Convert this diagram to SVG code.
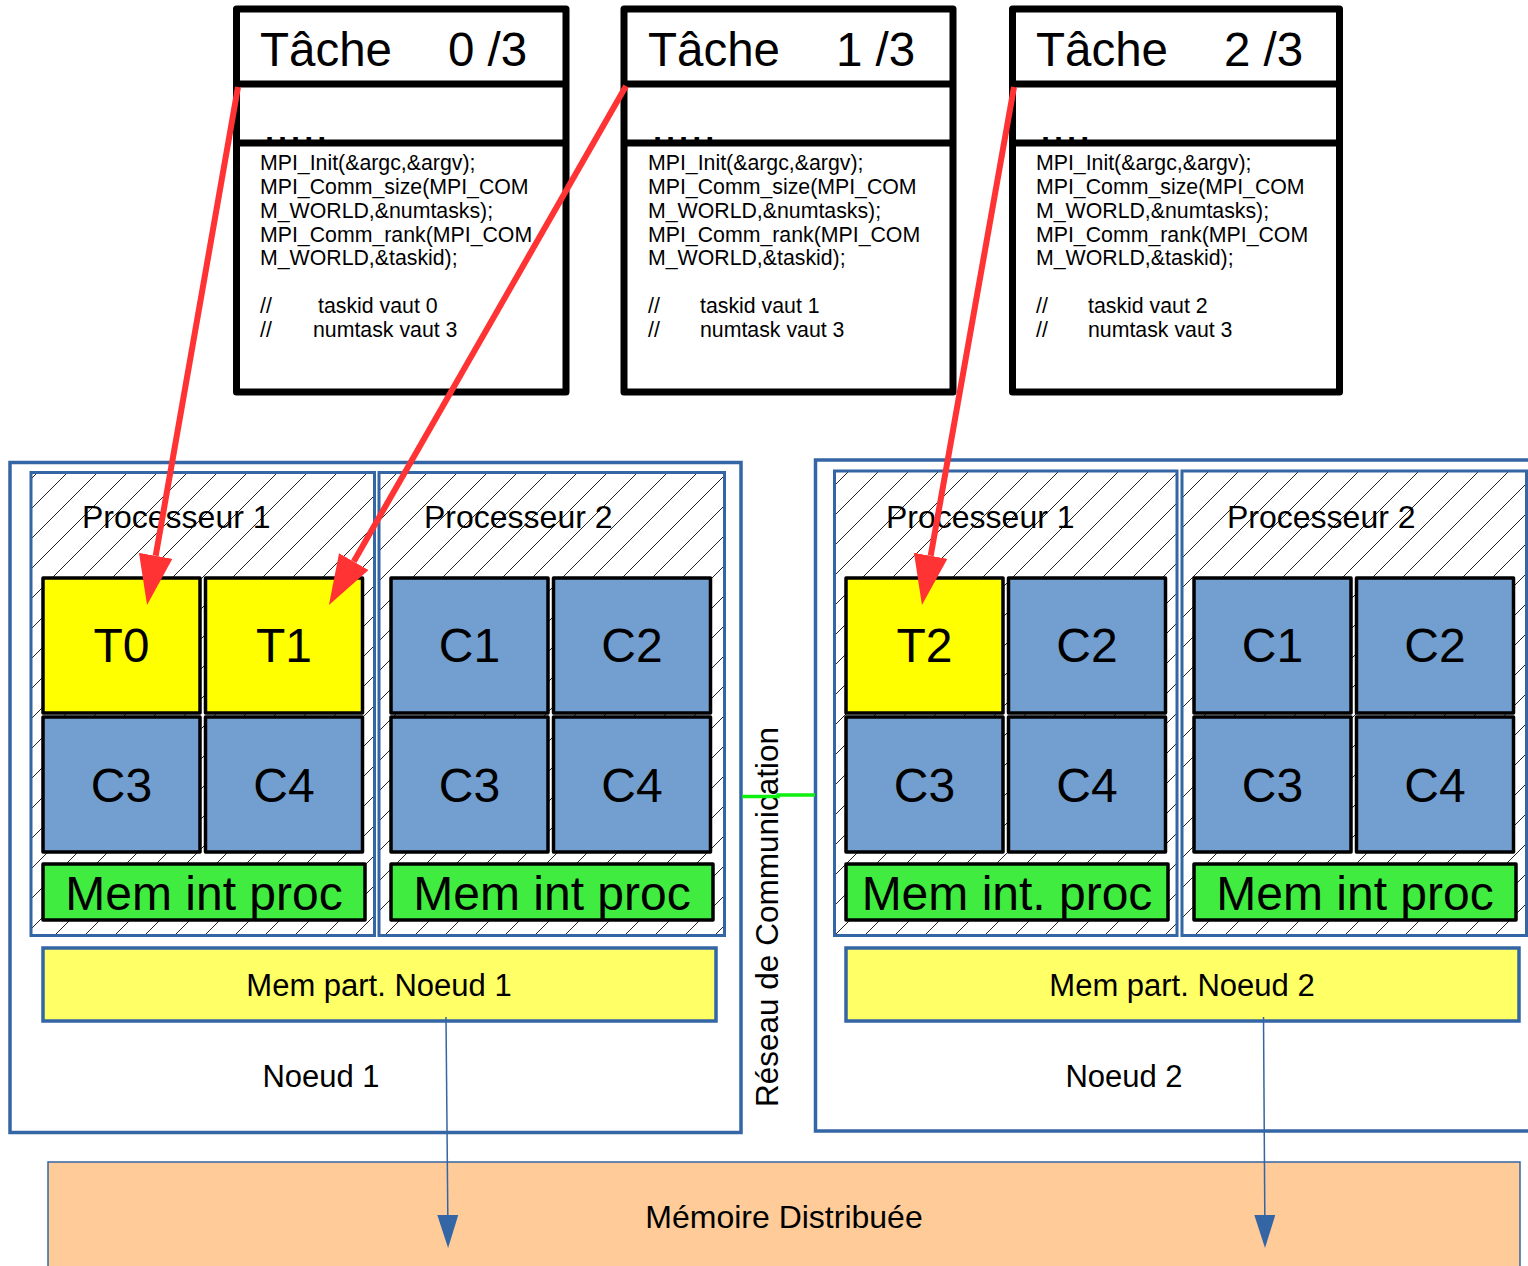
<svg xmlns="http://www.w3.org/2000/svg" width="1528" height="1266" viewBox="0 0 1528 1266">
  <defs>
    <pattern id="hatch" patternUnits="userSpaceOnUse" width="30" height="30">
      <rect width="30" height="30" fill="#ffffff"/>
      <path d="M-5,5 L5,-5 M0,30 L30,0 M25,35 L35,25" stroke="#222222" stroke-width="1"/>
    </pattern>
    <marker id="redHead" markerUnits="userSpaceOnUse" viewBox="0 -17 50 34" markerWidth="50" markerHeight="34" refX="0" refY="0" orient="auto">
      <path d="M0,-17 L50,0 L0,17 z" fill="#ff3333"/>
    </marker>
    <marker id="blueHead" markerUnits="userSpaceOnUse" viewBox="0 -11 33 22" markerWidth="33" markerHeight="22" refX="0" refY="0" orient="auto">
      <path d="M0,-10.5 L33,0 L0,10.5 z" fill="#3465a4"/>
    </marker>
    <style>
      text { font-family: "Liberation Sans", Arial, sans-serif; fill: #000000; }
      .task { fill: #ffffff; stroke: #000000; stroke-width: 7; stroke-linejoin: round; }
      .sep { stroke: #000000; stroke-width: 7; }
      .title { font-size: 47.5px; }
      .dots { font-size: 47px; }
      .code { font-size: 21.3px; }
      .node { fill: #ffffff; stroke: #3465a4; stroke-width: 3.5; }
      .proc { fill: url(#hatch); stroke: #3465a4; stroke-width: 3; }
      .proclabel { font-size: 32px; }
      .core { stroke: #000000; stroke-width: 3.5; stroke-linejoin: round; }
      .busy { fill: #ffff00; }
      .idle { fill: #729fcf; }
      .cell { font-size: 48px; text-anchor: middle; }
      .mem { fill: #40ec40; stroke: #000000; stroke-width: 3.5; stroke-linejoin: round; }
      .shared { fill: #ffff66; stroke: #3465a4; stroke-width: 3.5; }
      .mid { font-size: 31px; text-anchor: middle; }
      .lbl { font-size: 31px; text-anchor: middle; }
      .dist { fill: #ffcc99; stroke: #3465a4; stroke-width: 1.5; }
      .red { stroke: #ff3333; stroke-width: 6; fill: none; marker-end: url(#redHead); }
      .thin { stroke: #3465a4; stroke-width: 1.5; fill: none; marker-end: url(#blueHead); }
    </style>
  </defs>

  <!-- distributed memory -->
  <g id="memoire-distribuee">
    <rect class="dist" x="48" y="1162" width="1472" height="120"/>
    <text class="lbl" style="font-size:32px" x="784" y="1228">Mémoire Distribuée</text>
  </g>

  <!-- node 1 -->
  <g id="noeud1">
    <rect class="node" x="10" y="462.5" width="731" height="670"/>
    <text class="lbl" x="321" y="1087">Noeud 1</text>
  </g>
  <g id="noeud1-proc1">
    <rect class="proc" x="31" y="472.5" width="343.5" height="463"/>
    <text class="proclabel" x="82" y="528">Processeur 1</text>
    <rect class="core busy" x="43" y="578" width="157" height="135"/>
    <text class="cell" x="121.5" y="662">T0</text>
    <rect class="core busy" x="205.5" y="578" width="157" height="135"/>
    <text class="cell" x="284" y="662">T1</text>
    <rect class="core idle" x="43" y="717" width="157" height="135"/>
    <text class="cell" x="121.5" y="802">C3</text>
    <rect class="core idle" x="205.5" y="717" width="157" height="135"/>
    <text class="cell" x="284" y="802">C4</text>
    <rect class="mem" x="43" y="864" width="322" height="56"/>
    <text class="cell" x="204" y="910">Mem int proc</text>
  </g>
  <g id="noeud1-proc2">
    <rect class="proc" x="379" y="472.5" width="345.5" height="463"/>
    <text class="proclabel" x="424" y="528">Processeur 2</text>
    <rect class="core idle" x="391" y="578" width="157" height="135"/>
    <text class="cell" x="469.5" y="662">C1</text>
    <rect class="core idle" x="553.5" y="578" width="157" height="135"/>
    <text class="cell" x="632" y="662">C2</text>
    <rect class="core idle" x="391" y="717" width="157" height="135"/>
    <text class="cell" x="469.5" y="802">C3</text>
    <rect class="core idle" x="553.5" y="717" width="157" height="135"/>
    <text class="cell" x="632" y="802">C4</text>
    <rect class="mem" x="391" y="864" width="322" height="56"/>
    <text class="cell" x="552" y="910">Mem int proc</text>
  </g>
  <g id="noeud1-memoire">
    <rect class="shared" x="43" y="948" width="673" height="73"/>
    <text class="mid" x="379" y="996">Mem part. Noeud 1</text>
  </g>

  <!-- node 2 -->
  <g id="noeud2">
    <rect class="node" x="815.5" y="460" width="730" height="671"/>
    <text class="lbl" x="1124" y="1087">Noeud 2</text>
  </g>
  <g id="noeud2-proc1">
    <rect class="proc" x="834.5" y="471" width="342.5" height="464.5"/>
    <text class="proclabel" x="886" y="528">Processeur 1</text>
    <rect class="core busy" x="846" y="578" width="157" height="135"/>
    <text class="cell" x="924.5" y="662">T2</text>
    <rect class="core idle" x="1008.5" y="578" width="157" height="135"/>
    <text class="cell" x="1087" y="662">C2</text>
    <rect class="core idle" x="846" y="717" width="157" height="135"/>
    <text class="cell" x="924.5" y="802">C3</text>
    <rect class="core idle" x="1008.5" y="717" width="157" height="135"/>
    <text class="cell" x="1087" y="802">C4</text>
    <rect class="mem" x="846" y="864" width="322" height="56"/>
    <text class="cell" x="1007" y="910">Mem int. proc</text>
  </g>
  <g id="noeud2-proc2">
    <rect class="proc" x="1182" y="471" width="344.5" height="464.5"/>
    <text class="proclabel" x="1227" y="528">Processeur 2</text>
    <rect class="core idle" x="1194" y="578" width="157" height="135"/>
    <text class="cell" x="1272.5" y="662">C1</text>
    <rect class="core idle" x="1356.5" y="578" width="157" height="135"/>
    <text class="cell" x="1435" y="662">C2</text>
    <rect class="core idle" x="1194" y="717" width="157" height="135"/>
    <text class="cell" x="1272.5" y="802">C3</text>
    <rect class="core idle" x="1356.5" y="717" width="157" height="135"/>
    <text class="cell" x="1435" y="802">C4</text>
    <rect class="mem" x="1194" y="864" width="322" height="56"/>
    <text class="cell" x="1355" y="910">Mem int proc</text>
  </g>
  <g id="noeud2-memoire">
    <rect class="shared" x="846" y="948" width="673" height="73"/>
    <text class="mid" x="1182" y="996">Mem part. Noeud 2</text>
  </g>

  <!-- interconnect -->
  <g id="reseau">
    <text class="lbl" style="font-size:31.5px" transform="translate(778,917) rotate(-90)">Réseau de Communication</text>
  </g>

  <!-- task 0 -->
  <g id="tache0">
    <rect class="task" x="236.5" y="9" width="329.5" height="383"/>
    <text class="title" x="260" y="66">Tâche</text>
    <text class="title" x="448" y="66">0 /3</text>
    <text class="dots" x="263" y="142">.....</text>
    <line class="sep" x1="236.5" y1="84" x2="566" y2="84"/>
    <line class="sep" x1="236.5" y1="143" x2="566" y2="143"/>
    <text class="code">
      <tspan x="260" y="170">MPI_Init(&amp;argc,&amp;argv);</tspan>
      <tspan x="260" y="194">MPI_Comm_size(MPI_COM</tspan>
      <tspan x="260" y="218">M_WORLD,&amp;numtasks);</tspan>
      <tspan x="260" y="242">MPI_Comm_rank(MPI_COM</tspan>
      <tspan x="260" y="265">M_WORLD,&amp;taskid);</tspan>
      <tspan x="260" y="313">//</tspan><tspan x="318" y="313">taskid vaut 0</tspan>
      <tspan x="260" y="337">//</tspan><tspan x="313" y="337">numtask vaut 3</tspan>
    </text>
  </g>

  <!-- task 1 -->
  <g id="tache1">
    <rect class="task" x="624" y="9" width="329" height="383"/>
    <text class="title" x="648" y="66">Tâche</text>
    <text class="title" x="836" y="66">1 /3</text>
    <text class="dots" x="651" y="142">.....</text>
    <line class="sep" x1="624" y1="84" x2="953" y2="84"/>
    <line class="sep" x1="624" y1="143" x2="953" y2="143"/>
    <text class="code">
      <tspan x="648" y="170">MPI_Init(&amp;argc,&amp;argv);</tspan>
      <tspan x="648" y="194">MPI_Comm_size(MPI_COM</tspan>
      <tspan x="648" y="218">M_WORLD,&amp;numtasks);</tspan>
      <tspan x="648" y="242">MPI_Comm_rank(MPI_COM</tspan>
      <tspan x="648" y="265">M_WORLD,&amp;taskid);</tspan>
      <tspan x="648" y="313">//</tspan><tspan x="700" y="313">taskid vaut 1</tspan>
      <tspan x="648" y="337">//</tspan><tspan x="700" y="337">numtask vaut 3</tspan>
    </text>
  </g>

  <!-- task 2 -->
  <g id="tache2">
    <rect class="task" x="1012.5" y="9" width="327" height="383"/>
    <text class="title" x="1036" y="66">Tâche</text>
    <text class="title" x="1224" y="66">2 /3</text>
    <text class="dots" x="1039" y="142">....</text>
    <line class="sep" x1="1012.5" y1="84" x2="1339.5" y2="84"/>
    <line class="sep" x1="1012.5" y1="143" x2="1339.5" y2="143"/>
    <text class="code">
      <tspan x="1036" y="170">MPI_Init(&amp;argc,&amp;argv);</tspan>
      <tspan x="1036" y="194">MPI_Comm_size(MPI_COM</tspan>
      <tspan x="1036" y="218">M_WORLD,&amp;numtasks);</tspan>
      <tspan x="1036" y="242">MPI_Comm_rank(MPI_COM</tspan>
      <tspan x="1036" y="265">M_WORLD,&amp;taskid);</tspan>
      <tspan x="1036" y="313">//</tspan><tspan x="1088" y="313">taskid vaut 2</tspan>
      <tspan x="1036" y="337">//</tspan><tspan x="1088" y="337">numtask vaut 3</tspan>
    </text>
  </g>

  <!-- connectors -->
  <g id="connecteurs">
    <polyline points="742,796.5 778,796.5 778,795 815,795" fill="none" stroke="#10f010" stroke-width="3.5"/>
    <line class="thin" x1="446" y1="1017" x2="447.8" y2="1215"/>
    <line class="thin" x1="1263.5" y1="1017" x2="1264.8" y2="1215"/>
    <line class="red" x1="238" y1="87" x2="155.7" y2="555.8"/>
    <line class="red" x1="626" y1="86" x2="353.8" y2="561.6"/>
    <line class="red" x1="1014" y1="87" x2="930.7" y2="555.8"/>
  </g>
</svg>
